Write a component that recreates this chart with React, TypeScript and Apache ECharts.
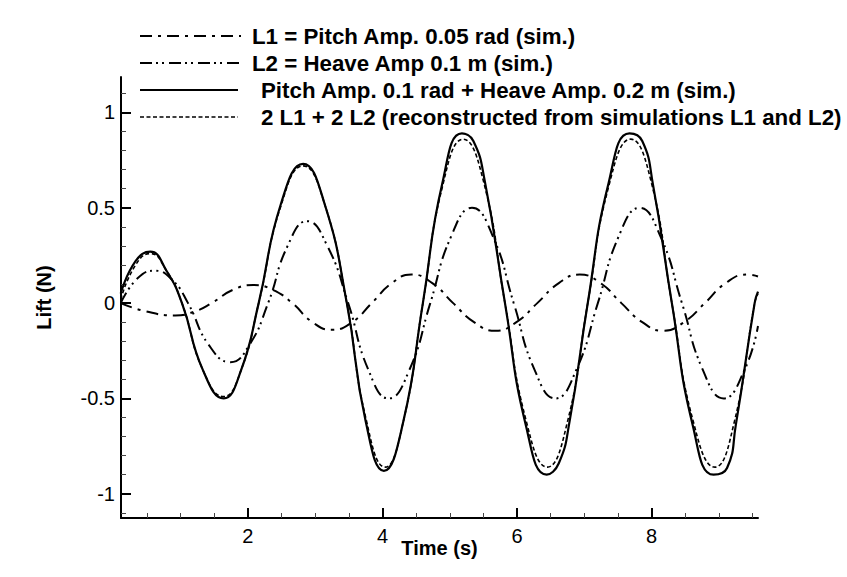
import React, { useEffect, useRef } from "react";
import * as echarts from "echarts";

const FONT = "'Liberation Sans', Arial, Helvetica, sans-serif";

// Axis extents / ticks
const xMin = 0.114;
const xMax = 9.58;
const yMin = -1.127;
const yMax = 1.186;
const xTickLabels = [2, 4, 6, 8];
const yTickLabels = [-1, -0.5, 0, 0.5, 1];

// Legend texts
const legendNames = [
  "L1 = Pitch Amp. 0.05 rad (sim.)",
  "L2 = Heave Amp 0.1 m (sim.)",
  "Pitch Amp. 0.1 rad + Heave Amp. 0.2 m (sim.)",
  "2 L1 + 2 L2 (reconstructed from simulations L1 and L2)",
];

// L1: pitch only
const pitchTime = [0.11, 0.45, 0.92, 1.2, 1.46, 1.78, 2.08, 2.37, 2.66, 2.96, 3.25, 3.55, 3.84, 4.14, 4.43, 4.74, 5.05, 5.36, 5.68, 5.99, 6.3, 6.62, 6.93, 7.24, 7.55, 7.86, 8.17, 8.48, 8.79, 9.1, 9.42, 9.58];
const pitchLift = [0.0, -0.04, -0.065, -0.045, 0.0, 0.07, 0.095, 0.07, 0.0, -0.1, -0.14, -0.1, 0.0, 0.105, 0.15, 0.105, 0.0, -0.1, -0.145, -0.1, 0.0, 0.105, 0.15, 0.105, 0.0, -0.1, -0.145, -0.1, 0.0, 0.105, 0.15, 0.14];

// L2: heave only
const heaveTime = [0.11, 0.36, 0.62, 0.88, 1.11, 1.42, 1.74, 2.02, 2.3, 2.59, 2.88, 3.18, 3.49, 3.79, 4.09, 4.4, 4.71, 5.02, 5.33, 5.64, 5.95, 6.26, 6.57, 6.88, 7.2, 7.51, 7.82, 8.13, 8.45, 8.76, 9.07, 9.38, 9.58];
const heaveLift = [0.0, 0.13, 0.17, 0.12, 0.0, -0.22, -0.31, -0.22, 0.0, 0.3, 0.43, 0.3, 0.0, -0.35, -0.5, -0.35, 0.0, 0.35, 0.5, 0.35, 0.0, -0.35, -0.5, -0.35, 0.0, 0.35, 0.5, 0.35, 0.0, -0.35, -0.5, -0.35, -0.12];

// Combined pitch + heave simulation
const combTime = [0.11, 0.33, 0.55, 0.79, 1.02, 1.33, 1.64, 1.9, 2.16, 2.49, 2.82, 3.14, 3.47, 3.75, 4.02, 4.31, 4.6, 4.89, 5.18, 5.35, 5.52, 5.82, 6.13, 6.44, 6.62, 6.78, 7.05, 7.36, 7.67, 7.86, 8.02, 8.3, 8.61, 8.92, 9.12, 9.25, 9.53, 9.58];
const combLift = [0.05, 0.22, 0.27, 0.17, 0.0, -0.35, -0.5, -0.35, 0.0, 0.52, 0.73, 0.52, 0.0, -0.62, -0.88, -0.62, 0.0, 0.63, 0.89, 0.85, 0.64, 0.0, -0.64, -0.9, -0.84, -0.62, 0.0, 0.63, 0.89, 0.85, 0.62, 0.0, -0.64, -0.9, -0.865, -0.64, 0.0, 0.06];

// Reconstruction 2 L1 + 2 L2
const reconTime = [0.11, 0.33, 0.55, 0.79, 1.02, 1.33, 1.64, 1.9, 2.16, 2.49, 2.82, 3.14, 3.47, 3.75, 4.04, 4.31, 4.6, 4.89, 5.2, 5.5, 5.82, 6.13, 6.45, 6.75, 7.05, 7.36, 7.69, 7.99, 8.3, 8.61, 8.94, 9.23, 9.53, 9.58];
const reconLift = [0.02, 0.2, 0.26, 0.17, 0.0, -0.35, -0.49, -0.35, 0.0, 0.51, 0.72, 0.52, 0.0, -0.6, -0.86, -0.62, 0.0, 0.61, 0.86, 0.64, 0.0, -0.61, -0.86, -0.62, 0.0, 0.61, 0.86, 0.64, 0.0, -0.61, -0.86, -0.62, 0.0, 0.05];

const zip = (t: number[], v: number[]) => t.map((x, i) => [x, v[i]]);

const dashes: (number[] | "solid")[] = [
  [12, 6, 3, 6],
  [12, 4, 2, 4, 2, 5],
  "solid",
  [4, 2.5],
];
const widths = [2, 2, 2.2, 1.6];

export default function App() {
  const ref = useRef<HTMLDivElement>(null);

  useEffect(() => {
    if (!ref.current) return;
    const chart = echarts.init(ref.current, null, { renderer: "svg" });

    const seriesData = [
      zip(pitchTime, pitchLift),
      zip(heaveTime, heaveLift),
      zip(combTime, combLift),
      zip(reconTime, reconLift),
    ];

    const legendRowsY = [36, 63, 90, 117];
    const legendLineEnd = [241, 241, 238, 238];
    const legendTextX = [252, 252, 261, 261];

    const graphic: any[] = [];
    legendNames.forEach((name, i) => {
      graphic.push({
        type: "line",
        shape: { x1: 140, y1: legendRowsY[i], x2: legendLineEnd[i], y2: legendRowsY[i] },
        style: {
          stroke: "#000",
          lineWidth: widths[i],
          lineDash: dashes[i] === "solid" ? null : dashes[i],
        },
      });
      graphic.push({
        type: "text",
        x: legendTextX[i],
        y: legendRowsY[i],
        style: {
          text: name,
          fill: "#000",
          font: `bold 22.3px ${FONT}`,
          textVerticalAlign: "middle",
          verticalAlign: "middle",
        },
      });
    });

    chart.setOption({
      animation: false,
      backgroundColor: "#fff",
      grid: { left: 121, right: 89, top: 77, bottom: 59, containLabel: false },
      xAxis: {
        type: "value",
        min: xMin,
        max: xMax,
        name: "Time (s)",
        nameLocation: "middle",
        nameGap: 20,
        nameMoveOverlap: false,
        nameTextStyle: { fontFamily: FONT, fontWeight: "bold", fontSize: 20, color: "#000" },
        axisLine: { show: true, onZero: false, lineStyle: { color: "#000", width: 2 } },
        axisTick: { show: true, inside: true, length: 10, customValues: xTickLabels, lineStyle: { color: "#000", width: 2 } },
        minorTick: { show: true, splitNumber: 4, length: 5, lineStyle: { color: "#444", width: 1 } },
        axisLabel: { customValues: xTickLabels, fontFamily: FONT, fontSize: 20, color: "#000", margin: 8 },
        splitLine: { show: false },
      },
      yAxis: {
        type: "value",
        min: yMin,
        max: yMax,
        name: "Lift (N)",
        nameLocation: "middle",
        nameGap: 67,
        nameMoveOverlap: false,
        nameTextStyle: { fontFamily: FONT, fontWeight: "bold", fontSize: 20, color: "#000" },
        axisLine: { show: true, onZero: false, lineStyle: { color: "#000", width: 2 } },
        axisTick: { show: true, inside: true, length: 10, customValues: yTickLabels, lineStyle: { color: "#000", width: 2 } },
        minorTick: { show: true, splitNumber: 5, length: 5, lineStyle: { color: "#444", width: 1 } },
        axisLabel: { customValues: yTickLabels, fontFamily: FONT, fontSize: 20, color: "#000", margin: 6 },
        splitLine: { show: false },
      },
      graphic,
      series: legendNames.map((name, i) => ({
        name,
        type: "line",
        data: seriesData[i],
        smooth: 0.5,
        symbol: "none",
        clip: true,
        lineStyle: { color: "#000", width: widths[i], type: dashes[i] },
        z: 2 + i,
      })),
    });

    return () => chart.dispose();
  }, []);

  return (
    <div
      ref={ref}
      style={{ position: "fixed", left: 0, top: 0, width: 847, height: 577, background: "#fff" }}
    />
  );
}
